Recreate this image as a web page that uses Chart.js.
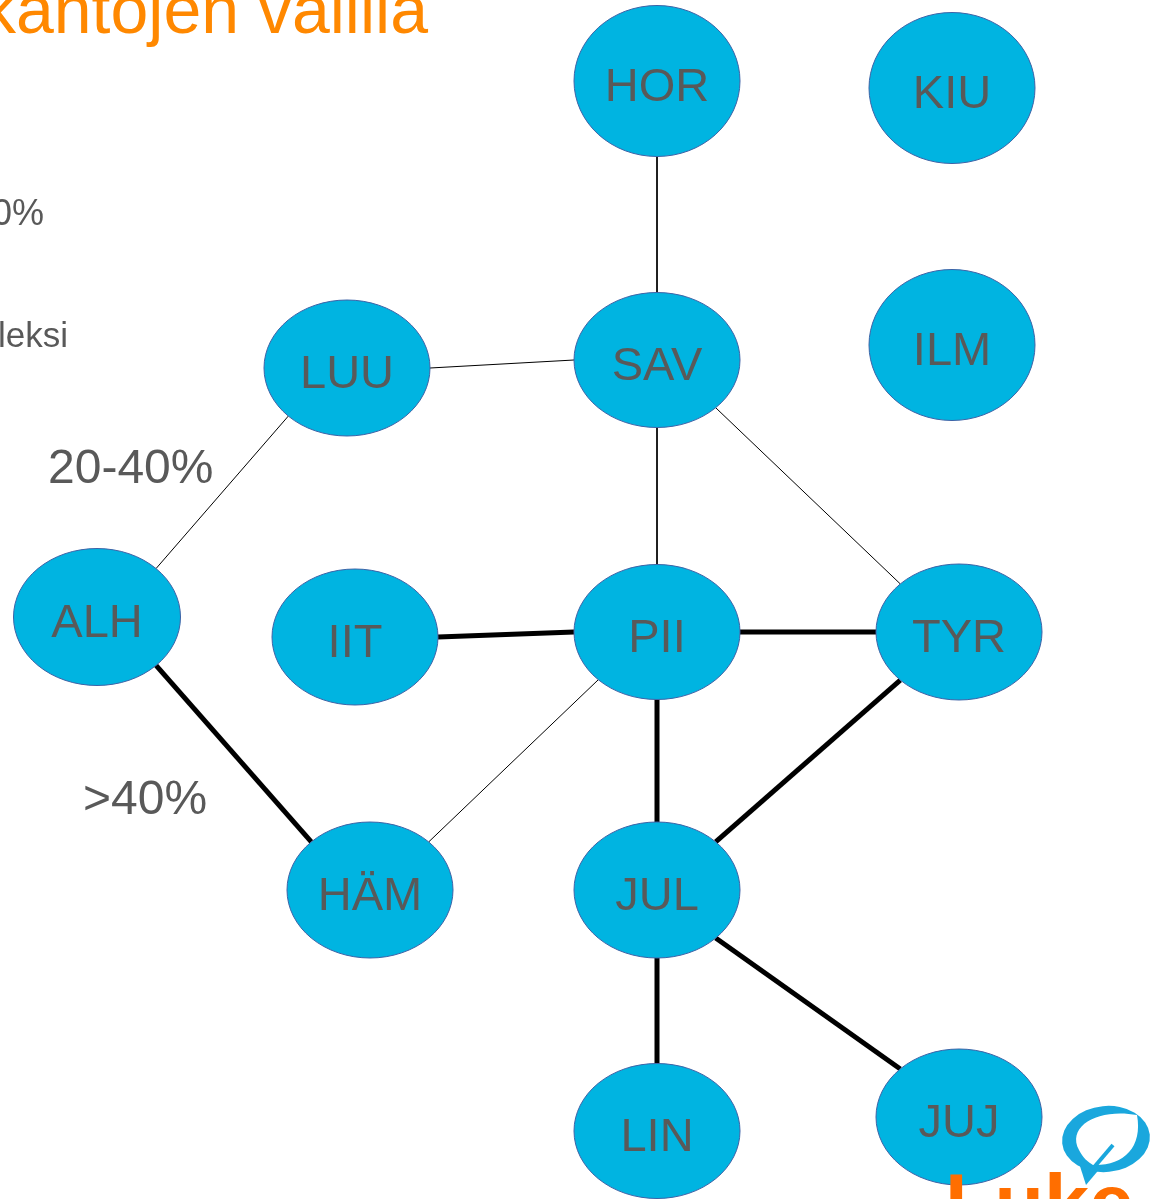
<!DOCTYPE html>
<html>
<head>
<meta charset="utf-8">
<script src="https://cdn.jsdelivr.net/npm/chart.js@4"></script>
<style>
  body { margin: 0; background: #fff; overflow: hidden; }
  #wrap { width: 1161px; height: 1199px; }
</style>
</head>
<body>
<div id="wrap"><canvas id="net" width="1161" height="1199"></canvas></div>
<script>
// nodes (centre + ellipse size, in chart units)
const nodeNames = ["HOR", "KIU", "SAV", "ILM", "LUU", "ALH", "IIT", "PII", "TYR", "HÄM", "JUL", "LIN", "JUJ"];
const nodeX = [657, 952, 657, 952, 347, 97, 355, 657, 959, 370, 657, 657, 959];
const nodeY = [81, 88, 360, 345, 368, 617, 637, 632, 632, 890, 890, 1131, 1117];
const nodeW = [166, 166, 166, 166, 166, 167, 166, 166, 166, 166, 166, 166, 166];
const nodeH = [151, 151, 135, 151, 136, 137, 136, 135, 136, 136, 136, 135, 136];

// edges: which connection point of each ellipse the line is attached to
const edgeFrom = ["HOR", "LUU", "SAV", "SAV", "LUU", "PII", "ALH", "IIT", "PII", "PII", "TYR", "JUL", "JUL"];
const edgeTo   = ["SAV", "SAV", "PII", "TYR", "ALH", "HÄM", "HÄM", "PII", "TYR", "JUL", "JUL", "LIN", "JUJ"];
const edgeFromSite = ["s", "e", "s", "se", "sw", "sw", "se", "e", "e", "s", "sw", "s", "se"];
const edgeToSite   = ["n", "w", "n", "nw", "ne", "ne", "nw", "w", "w", "n", "ne", "n", "nw"];
const edgeShare = ["20-40%", "20-40%", "20-40%", "20-40%", "20-40%", "20-40%", ">40%", ">40%", ">40%", ">40%", ">40%", ">40%", ">40%"];

const shareClasses = ["20-40%", ">40%"];
const shareWidths = [1, 5];

const titleText = "kantojen välillä";
const sideTexts = ["0%", "leksi"];

const siteAngle = { e: 0, se: 45, s: 90, sw: 135, w: 180, nw: 225, n: 270, ne: 315 };

function sitePoint(name, site) {
    let i = nodeNames.indexOf(name);
    let a = siteAngle[site] * Math.PI / 180;
    return {
        x: nodeX[i] + nodeW[i] / 2 * Math.cos(a),
        y: nodeY[i] + nodeH[i] / 2 * Math.sin(a)
    };
}

let datasets = [];
edgeFrom.forEach((from, i) => {
    datasets.push({
        type: "line",
        data: [sitePoint(from, edgeFromSite[i]), sitePoint(edgeTo[i], edgeToSite[i])],
        borderColor: "#000",
        borderWidth: shareWidths[shareClasses.indexOf(edgeShare[i])],
        pointRadius: 0,
        fill: false,
        clip: false
    });
});

datasets.push({
    type: "scatter",
    label: "nodes",
    data: nodeNames.map((n, i) => ({ x: nodeX[i], y: nodeY[i] })),
    pointRadius: 0,
    clip: false
});

// ellipses + labels
const nodePlugin = {
    id: "nodes",
    afterDatasetsDraw(chart) {
        const ctx = chart.ctx;
        const xs = chart.scales.x, ys = chart.scales.y;
        const meta = chart.getDatasetMeta(chart.data.datasets.length - 1);
        ctx.save();
        meta.data.forEach((pt, i) => {
            let rx = Math.abs(xs.getPixelForValue(nodeX[i] + nodeW[i] / 2) - pt.x);
            let ry = Math.abs(ys.getPixelForValue(nodeY[i] + nodeH[i] / 2) - pt.y);
            ctx.beginPath();
            ctx.ellipse(pt.x, pt.y, rx, ry, 0, 0, Math.PI * 2);
            ctx.fillStyle = "#00b4e1";
            ctx.fill();
            ctx.lineWidth = 1;
            ctx.strokeStyle = "#3d62a6";
            ctx.stroke();
            ctx.fillStyle = "#595959";
            ctx.font = "47px 'Liberation Sans', Arial, sans-serif";
            ctx.textAlign = "center";
            ctx.textBaseline = "alphabetic";
            ctx.fillText(nodeNames[i], pt.x, pt.y + 20);
        });
        ctx.restore();
    }
};

// slide texts and logo
const slidePlugin = {
    id: "slide",
    afterDraw(chart) {
        const ctx = chart.ctx;
        ctx.save();
        ctx.textBaseline = "alphabetic";
        ctx.fillStyle = "#ff8800";
        ctx.font = "68px 'Liberation Sans', Arial, sans-serif";
        ctx.textAlign = "right";
        ctx.fillText(titleText, 428, 33);

        ctx.fillStyle = "#595959";
        ctx.font = "36px 'Liberation Sans', Arial, sans-serif";
        ctx.fillText(sideTexts[0], 44, 225);
        ctx.font = "35px 'Liberation Sans', Arial, sans-serif";
        ctx.fillText(sideTexts[1], 68, 347);

        ctx.textAlign = "left";
        ctx.font = "48px 'Liberation Sans', Arial, sans-serif";
        ctx.fillText(shareClasses[0], 48, 483);
        ctx.fillText(shareClasses[1], 83, 814);

        // Luke wordmark
        ctx.fillStyle = "#ff6e00";
        ctx.font = "bold 81px 'Liberation Sans', Arial, sans-serif";
        ctx.fillText("Luke", 945, 1231);

        // leaf
        ctx.fillStyle = "#1aa7dd";
        ctx.beginPath();
        ctx.ellipse(1106, 1139, 44, 33, -0.1, 0, Math.PI * 2);
        ctx.fill();
        ctx.beginPath();
        ctx.moveTo(1078, 1160);
        ctx.lineTo(1086, 1185);
        ctx.lineTo(1102, 1166);
        ctx.closePath();
        ctx.fill();
        ctx.fillStyle = "#fff";
        ctx.beginPath();
        ctx.moveTo(1137, 1115);
        ctx.bezierCurveTo(1100, 1108, 1066, 1125, 1079, 1150);
        ctx.bezierCurveTo(1083, 1158, 1088, 1162, 1093, 1165);
        ctx.bezierCurveTo(1123, 1166, 1143, 1148, 1137, 1115);
        ctx.fill();
        ctx.strokeStyle = "#1aa7dd";
        ctx.lineWidth = 4;
        ctx.beginPath();
        ctx.moveTo(1113, 1145);
        ctx.lineTo(1090, 1172);
        ctx.stroke();
        ctx.restore();
    }
};

new Chart(document.getElementById("net"), {
    data: { datasets: datasets },
    options: {
        responsive: false,
        animation: false,
        layout: { padding: 0 },
        plugins: { legend: { display: false }, tooltip: { enabled: false } },
        scales: {
            x: { type: "linear", min: 0, max: 1161, display: false },
            y: { type: "linear", min: 0, max: 1199, reverse: true, display: false }
        }
    },
    plugins: [nodePlugin, slidePlugin]
});
</script>
</body>
</html>
